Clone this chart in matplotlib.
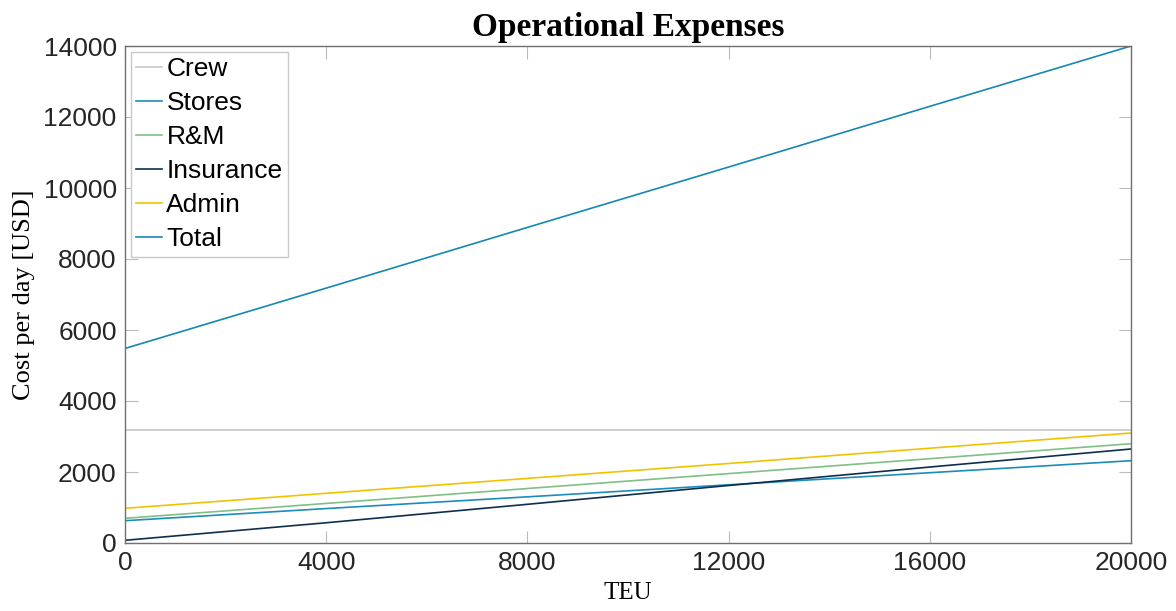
import numpy as np
import matplotlib.pyplot as plt

# TEU sample points
teu = [0, 4000, 8000, 12000, 16000, 20000]

# cost per day [USD]
crew = [3180, 3180, 3180, 3180, 3180, 3180]
stores = [628, 970, 1300, 1640, 1980, 2318]
rm = [695, 1115, 1535, 1955, 2375, 2797]
insurance = [76, 570, 1090, 1620, 2140, 2648]
admin = [977, 1400, 1820, 2240, 2670, 3098]
total = [5480, 7180, 8890, 10590, 12300, 14000]

series_names = ['Crew', 'Stores', 'R&M', 'Insurance', 'Admin', 'Total']
series_vals = [crew, stores, rm, insurance, admin, total]
series_cols = ['#c8c8c8', '#1c8cbc', '#80bf85', '#0d2f4f', '#f2c200', '#1687b0']

plt.rcParams['font.family'] = ['Liberation Sans', 'DejaVu Sans']

fig = plt.figure(figsize=(11.76, 6.11), dpi=100)
ax = fig.add_axes([125/1176, 1 - 543/611, (1131-125)/1176, (543-46)/611])

for name, vals, col in zip(series_names, series_vals, series_cols):
    ax.plot(teu, vals, color=col, lw=1.2, label=name)

ax.set_xlim(0, 20000)
ax.set_ylim(0, 14000)
ax.set_xticks(range(0, 20001, 4000))
ax.set_yticks(range(0, 14001, 2000))
ax.tick_params(direction='in', length=9, width=0.8, top=True, right=True,
               labelsize=19, colors='#bbbbbb', labelcolor='#262626', pad=6)
for s in ax.spines.values():
    s.set_color('#707070')
    s.set_linewidth(1.0)

serif = ['Liberation Serif', 'DejaVu Serif']
ax.set_title('Operational Expenses', family=serif, fontweight='bold', fontsize=24, pad=7)
ax.set_xlabel('TEU', family=serif, fontsize=18, labelpad=5)
ax.set_ylabel('Cost per day [USD]', family=serif, fontsize=19, labelpad=6)

leg = ax.legend(loc='upper left', fontsize=19, handlelength=1.0, handletextpad=0.15,
                labelspacing=0.38, borderpad=0.2, borderaxespad=0.22,
                fancybox=False, framealpha=1)
leg.get_frame().set_edgecolor('#c8c8c8')
leg.get_frame().set_linewidth(1.0)

fig.savefig('out.png', dpi=100)
